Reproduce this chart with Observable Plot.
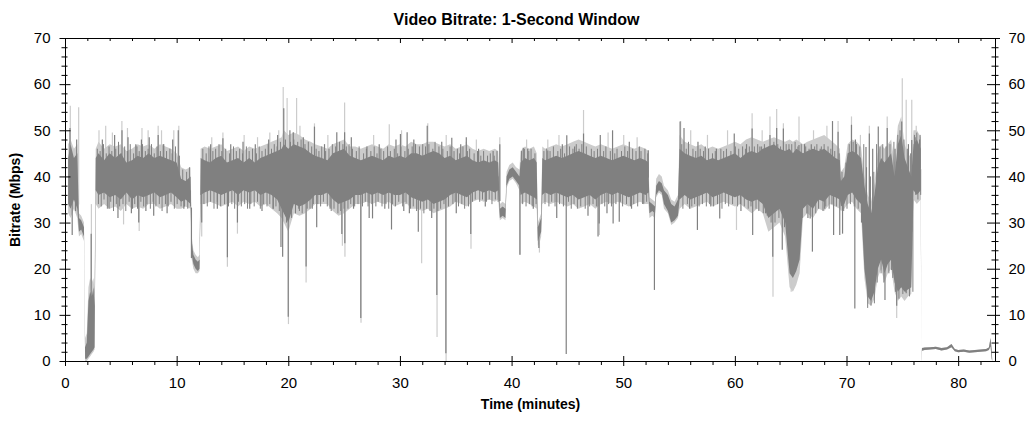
<!DOCTYPE html>
<html><head><meta charset="utf-8">
<script src="https://cdn.jsdelivr.net/npm/d3@7"></script>
<script src="https://cdn.jsdelivr.net/npm/@observablehq/plot@0.6"></script>
<style>html,body{margin:0;padding:0;background:#fff;}</style>
</head><body><div id="chart"></div>
<script>
// ---- Data (minutes, Mbps) ----
const bandTime = [
  0.28, 0.5, 0.8, 1.1, 1.25, 1.45, 1.7,
  1.8, 1.95, 2.1, 2.25, 2.4, 2.55, 2.65,
  2.75, 3.0, 3.5, 4.0, 4.5, 5.0, 5.5, 6.0, 6.5, 7.0, 7.5, 8.0, 8.5, 9.0, 9.5, 10.0, 10.4, 10.8, 11.25,
  11.35, 11.5, 11.7, 11.9, 12.05,
  12.15, 12.5, 13, 13.5, 14, 14.5, 15, 15.5, 16, 16.5, 17, 17.5, 18, 18.5, 19, 19.4,
  19.6, 20.0, 20.5, 21.0, 21.5, 22.0, 22.4,
  23, 23.5, 24, 24.5, 25, 25.5, 26, 26.5, 27, 27.5, 28, 28.5, 29, 29.5, 30, 30.5, 31, 31.5, 32, 32.5, 33, 33.5, 34, 34.5, 35, 35.5, 36, 36.5, 37, 37.5, 38, 38.5, 38.8,
  38.95, 39.2, 39.45,
  39.55, 39.8, 40.1, 40.4, 40.7,
  40.8, 41.2, 41.6, 42.0, 42.25,
  42.35, 42.5, 42.65,
  42.75, 43.0, 43.5, 44, 44.5, 45, 45.5, 46, 46.5, 47, 47.5, 48, 48.5, 49, 49.5, 50, 50.5, 51, 51.5, 52, 52.25,
  52.35, 52.6, 52.85,
  52.95, 53.2, 53.45, 53.65, 54.0, 54.3, 54.6, 54.9,
  55.05, 55.5, 56, 56.5, 57, 57.5, 58, 58.5, 59, 59.5, 60, 60.5, 61, 61.5, 62, 62.5, 63, 63.5, 64, 64.5, 64.9, 65.2, 65.5, 65.8, 66.1, 66.5, 67, 67.5, 68, 68.5, 69, 69.4,
  69.5, 69.8, 70.1, 70.5, 70.9, 71.3, 71.6, 71.9, 72.2, 72.5, 72.8, 73.1, 73.4, 73.7, 74.0, 74.3, 74.6, 74.9, 75.2, 75.5, 75.8, 76.0, 76.3, 76.65,
  76.7, 76.76, 77.0, 77.5, 78.0, 78.5, 79.0, 79.4, 79.7, 80.0, 80.5, 81.0, 81.5, 82.0, 82.5, 82.75, 82.9, 83.0, 83.05
];
const darkLow = [
  34, 33, 35, 33, 28, 28.5, 27,
  0.5, 0.5, 1, 1.5, 2, 2.5, 3,
  37, 36, 36.5, 35.5, 36, 35, 36.5, 35, 36, 35.5, 36, 36.5, 35.5, 36, 36.5, 35.5, 34.5, 35, 34,
  23, 21, 20, 19.5, 20,
  36, 36.5, 37, 36.5, 36, 36.5, 37, 36, 37, 36.5, 37, 36, 36.5, 36, 35, 33,
  32, 30, 34, 33.5, 34, 35, 36,
  36, 36.5, 35, 34, 34.5, 35, 36, 36, 36.5, 36, 36.5, 36, 36.5, 36, 36, 36.5, 35.5, 35, 34.5, 35, 34, 34.5, 35, 36, 36.5, 36, 35.5, 36.5, 37, 36.5, 37, 36.5, 37,
  31, 31.5, 31,
  38, 39.5, 40, 39, 38,
  36, 36.5, 36, 35.5, 35,
  26, 27, 28,
  36, 36.5, 36, 36.5, 36, 35.5, 36, 35, 35.5, 36, 35, 36, 36.5, 36, 36.5, 36, 35.5, 36, 36.5, 36, 36.5,
  32, 32.5, 32,
  36, 37, 36.5, 34, 32.5, 30, 30.5, 31.5,
  35, 36, 35, 35.5, 36, 36.5, 35.5, 36, 36.5, 36, 35.5, 36, 35, 34.5, 35, 34, 31, 32, 33, 30, 19, 18, 19.5, 22, 33, 34, 33, 35, 34.5, 36, 35.5, 35,
  33.5, 34, 36, 36.5, 35, 34, 20, 14, 13, 15, 20, 22, 19, 21, 22, 17, 15, 16, 15, 15.5, 16, 37, 36, 37,
  0, 2.2, 2.4, 2.5, 2.6, 2.3, 2.5, 3.0, 2.1, 1.9, 2.0, 1.8, 1.9, 2.0, 2.1, 2.4, 3.2, 0.5, 0
];
const darkHigh = [
  44, 47, 44, 45, 31, 30.5, 29,
  3, 4, 13, 15, 14, 16, 12,
  44, 45, 43.5, 45, 44, 45, 43, 43.5, 44.5, 44, 45, 44, 44.5, 44, 43.5, 43, 39.5, 39, 40,
  26, 23, 22, 21.5, 22,
  44, 43.5, 43, 44, 44.5, 43, 43.5, 44, 43, 44, 43, 44, 44.5, 45, 45.5, 46,
  47, 46, 47, 46.5, 46, 45, 44.5,
  44, 43.5, 45, 45.5, 46, 44.5, 44, 43.5, 44, 44.5, 44, 43.5, 44.5, 44, 44.5, 44, 45, 45, 44.5, 45, 45.5, 45, 44, 44.5, 43.5, 44, 44.5, 43.5, 43, 43.5, 43, 43.5, 43,
  33, 33.5, 33,
  40, 41.5, 42, 41, 40,
  43, 44, 43.5, 44, 43,
  29, 30, 31,
  44, 43.5, 44, 44.5, 44, 44.5, 45, 45.5, 45, 44.5, 44, 44.5, 44, 43.5, 44, 44.5, 44, 43.5, 44, 43.5, 43,
  34.5, 34, 33.5,
  38, 39, 38.5, 37, 36, 34, 33.5, 35,
  46, 45, 44.5, 44, 44.5, 43.5, 44, 43.5, 44, 44.5, 45, 44, 45, 45.5, 45, 46, 46.5, 47, 46, 45.5, 46, 45, 46, 45.5, 45, 45.5, 46, 45.5, 46, 45, 44, 43.5,
  39, 40, 45, 45.5, 45, 44, 38, 34, 32, 36, 42, 44, 43, 44, 45, 40, 47, 49, 44, 42, 40, 47, 48, 46,
  0.4, 2.8, 2.9, 3.0, 3.1, 2.8, 3.0, 3.7, 2.6, 2.4, 2.5, 2.3, 2.4, 2.5, 2.6, 2.9, 5.0, 2.5, 0.4
];
const lightLow = [
  32, 31, 33, 31, 27, 27.5, 26,
  0, 0, 0.5, 1, 1.5, 2, 2.5,
  34, 33, 34, 33, 33.5, 32.5, 34, 33, 33.5, 33, 34, 34, 33, 33.5, 34, 33, 33, 33.5, 33,
  22, 20, 19, 19, 19.5,
  34, 34, 34.5, 34, 33.5, 34, 34.5, 33.5, 34.5, 34, 34.5, 33.5, 34, 33, 32, 31,
  30, 28, 32, 31.5, 32, 33, 34,
  34, 34, 32.5, 31.5, 32, 33, 34, 34, 34.5, 34, 34.5, 34, 34.5, 33.5, 34, 34.5, 33, 33, 32.5, 33, 32, 32.5, 33, 33.5, 34.5, 34, 33.5, 34.5, 35, 34.5, 35, 34.5, 35,
  30.5, 31, 30.5,
  37.5, 39, 39.5, 38.5, 37,
  34, 34.5, 34, 33.5, 33,
  25, 25.5, 27,
  34, 34.5, 34, 34.5, 34, 33.5, 34, 33, 33.5, 34, 33, 34, 34.5, 34, 34.5, 34, 33.5, 34, 34.5, 34, 34,
  31, 31.5, 31,
  35.5, 36.5, 36, 33, 32, 29.5, 30, 31,
  33, 34, 33, 33.5, 34, 34.5, 33.5, 34, 34.5, 34, 33.5, 34, 33, 32, 33, 32, 28, 29, 30, 27, 16, 15, 16.5, 19, 31, 32, 31, 33, 32.5, 34, 33.5, 33,
  32.5, 33, 34, 34.5, 33, 32, 18, 12.5, 12, 13.5, 18, 20, 17, 19, 20, 15, 13, 14, 13, 14, 14.5, 35, 34, 35,
  0, 2.2, 2.4, 2.5, 2.6, 2.3, 2.5, 3.0, 2.1, 1.9, 2.0, 1.8, 1.9, 2.0, 2.1, 2.4, 3.2, 0.5, 0
];
const lightHigh = [
  47, 48, 46, 47, 32, 31.5, 30,
  5, 6, 16, 18, 17, 18, 15,
  46, 47.5, 46, 47, 46.5, 47, 45.5, 46, 47, 46.5, 47, 46, 47, 46.5, 46, 45, 42, 41.5, 42,
  27, 24, 23, 22.5, 23,
  46, 46.5, 46, 46.5, 47, 45.5, 46, 46.5, 45.5, 46.5, 46, 46.5, 47, 47.5, 48, 48.5,
  50, 49, 49.5, 49, 48, 47.5, 47,
  46.5, 46, 47, 47.5, 48, 46.5, 46.5, 46, 46.5, 47, 46.5, 46, 47, 46.5, 47, 46.5, 47.5, 47, 47, 47.5, 47.5, 47, 46.5, 47, 46, 46.5, 47, 46, 45.5, 46, 45.5, 46, 45.5,
  34, 34.5, 34,
  41, 42.5, 43, 42, 41.5,
  45.5, 46.5, 46, 46.5, 45,
  30, 31, 32,
  46.5, 46, 46.5, 47, 46.5, 47, 47.5, 48, 47.5, 47, 46.5, 47, 46.5, 46, 46.5, 47, 46.5, 46, 46.5, 46, 45.5,
  35.5, 35, 34.5,
  39.5, 40.5, 40, 38, 37, 35, 34.5, 36,
  49, 47.5, 47, 46.5, 47, 46, 46.5, 46, 46.5, 47, 47.5, 47, 48, 48.5, 48, 47.5, 48, 48.5, 48, 47.5, 48, 47.5, 48, 47.5, 47, 47.5, 48, 48.5, 49, 48, 47, 46,
  41, 42, 47, 48, 47.5, 46.5, 40, 36, 34.5, 38.5, 45, 47, 46, 47, 48, 43, 51, 53, 47, 45, 44, 50, 50, 48.5,
  0.4, 2.8, 2.9, 3.0, 3.1, 2.8, 3.0, 3.7, 2.6, 2.4, 2.5, 2.3, 2.4, 2.5, 2.6, 2.9, 5.0, 2.5, 0.4
];
// single-second peaks/dips beyond the band: [minute, Mbps]
const darkSpikes = [
  [0.4,50.5],[0.6,27.3],[0.9,32.5],[1.0,48],[2.3,27.6],
  [3.3,48],[3.9,33],[4.4,49],[4.7,31],[5.06,50],[5.6,48.5],[5.9,32],[6.3,47],[6.56,30],[6.8,48],[7.2,32.5],[7.5,48.5],[7.9,31.5],[8.3,49],[8.8,47],[9.1,32],[9.6,48],[10.1,50],[10.6,33],[11.28,22.3],
  [12.2,30],[13.0,47],[13.6,33],[14.1,48.3],[14.5,22.5],[14.8,47],[15.4,30],[15.9,47.5],[16.5,33],[17.0,47],[17.6,32.5],[18.2,48],[18.6,33],[19.0,49],[19.3,24.7],[19.45,22.6],[19.55,54.8],[19.95,9.6],[20.1,50],
  [20.4,49.6],[20.9,33],[21.3,48.5],[21.55,20.5],[22.1,33],[22.3,50.8],
  [22.5,29],[23.2,47],[23.7,33],[24.3,49.6],[24.75,27.5],[25.0,49.6],[25.02,25.5],[25.6,48.5],[25.8,33],[26.45,9.3],[27.0,46.5],[27.2,31],[27.5,30.9],[28.1,47],[28.6,33],[29.2,28.5],[29.6,48],[30.0,49.2],[30.3,32.5],[30.6,49.6],[30.8,32],[31.2,48],[31.6,28],[32.4,51],[32.8,31],[33.26,14.3],[33.7,47.5],[34.07,1.7],[34.6,48.4],[35.0,32],[35.4,47],[35.9,48.5],[36.3,27.5],[37.0,46],[37.6,33.5],[38.3,45.5],[38.9,47],
  [40.7,23],[41.0,46.2],[41.4,46],[41.9,33],[42.4,24.5],
  [43.2,45.6],[44.0,31],[44.5,47],[44.85,1.5],[44.9,48.9],[45.6,46.5],[46.4,49.3],[46.8,31.5],[47.7,27],[47.8,29.8],[47.9,49],[48.5,32],[49.0,50],[49.05,29.8],[49.6,30.2],[50.5,47.5],[50.7,33],[51.4,46.5],[51.7,34],[52.2,45.7],
  [52.75,15.4],
  [55.05,51.9],[55.4,50.5],[55.9,33],[56.6,28.4],[56.65,47.5],[57.3,46.5],[57.8,33.5],[58.3,46],[58.6,30.9],[59.9,49.3],[60.5,32.5],[61.0,47],[61.5,50.4],[61.55,27.3],[62.2,46.5],[62.7,32],[63.1,49],[63.35,22.6],[63.7,50.5],[64.2,24.1],[64.3,50.4],[65.7,46.8],[66.2,47],[66.5,31],[66.7,30.9],[66.8,47],[66.9,23.7],[67.6,46],[68.0,33],[68.7,52],[68.8,27.3],
  [69.2,49.7],[69.35,27.3],[69.6,27.6],[70.4,51.2],[70.7,11.4],[70.75,48],[71.3,30],[71.7,46.4],[72.0,49.3],[72.3,46],[72.8,50.8],[73.0,24],[73.4,13.2],[73.6,50.5],[74.0,19.7],[74.3,46],[74.45,12],[74.9,51.9],[75.3,14.7],[75.5,47],[75.8,47.9],[76.1,48.5],[76.4,39],[76.5,48]
];
const lightSpikes = [
  [0.43,55.3],[1.18,55],[2.32,34],[3.0,50],[3.6,51],[4.2,49.5],[5.05,52],[5.2,29.6],[5.55,50.5],[6.6,28.2],[6.85,50.5],[7.4,50],[8.3,51],[8.6,50],[9.7,50],[10.15,51],
  [12.2,27],[13.1,48.5],[14.1,49.5],[14.5,20.4],[15.4,27.6],[16.0,49],[17.2,48.5],[18.3,49.5],[19.1,50],[19.5,59.4],[19.85,57],[19.97,8],[20.7,57],[21.0,51],[21.55,17],[22.3,51.5],
  [23.5,49],[24.8,25],[25.0,56],[25.03,22.6],[26.47,8.3],[27.6,49],[29.0,51.3],[30.1,50],[31.9,21.2],[32.45,51.5],[33.28,5.2],[34.09,0],[34.1,49],[35.9,47.5],[36.32,24.3],[36.8,48],[38.9,48.5],
  [40.72,23],[41.3,48],[42.45,23.5],[43.2,48],[44.2,49],[46.4,54.4],[47.82,27.3],[48.6,49.5],[50.0,49],[51.2,48.5],
  [55.1,52],[56.0,50],[57.5,49],[59.3,50],[60.1,28.4],[61.5,53.7],[62.4,50],[63.1,53],[63.37,13.9],[63.7,54.6],[64.3,51.5],[65.0,15],[65.7,53],[67.0,50],[68.2,51],
  [69.2,52],[70.4,53],[71.2,49],[72.0,51],[73.6,53],[74.45,9.3],[74.95,61.3],[75.3,56.6],[75.8,56.6],[76.2,51]
];
// short second-to-second swings at the band edges: [minute, Mbps]
const hairs = [
  [2.85,46],[2.95,34],[3.1,45.5],[3.2,33.5],[3.4,47],[3.45,35],[3.65,45],[3.75,33],[3.9,46.5],[4.05,34.5],[4.15,45.5],[4.3,32.5],[4.5,46],[4.55,34],[4.75,47.5],[4.85,33.5],[5.0,45],[5.15,34],[5.3,46.5],[5.4,32.5],[5.55,45.5],[5.7,34.5],[5.8,47],[6.0,33],[6.1,45],[6.2,34],[6.4,46.5],[6.45,33],[6.6,45.5],[6.75,34.5],[6.9,47],[7.0,33.5],[7.15,45.5],[7.3,34],[7.4,46],[7.6,33],[7.7,47],[7.85,34.5],[7.95,45],[8.1,33.5],[8.2,46.5],[8.4,34],[8.5,45.5],[8.65,32.5],[8.75,47],[8.95,34],[9.05,45.5],[9.2,33.5],[9.35,46],[9.45,34.5],[9.55,45],[9.75,33],[9.85,46.5],[10.0,34],[10.2,44.5],[10.35,33.5],[10.5,41.5],[10.65,33.5],[10.85,41],[10.95,33],[11.1,42],[11.2,33.5],
  [12.3,46],[12.4,34],[12.6,45],[12.7,33.5],[12.85,46.5],[13.0,34.5],[13.2,45.5],[13.3,33],[13.45,46],[13.6,34.5],[13.75,47],[13.9,33.5],[14.0,45.5],[14.25,34],[14.35,46],[14.6,33.5],[14.7,45],[14.9,34],[15.05,46.5],[15.15,33],[15.3,45.5],[15.5,34.5],[15.6,46],[15.75,33.5],[15.85,45],[16.05,34],[16.2,46.5],[16.3,33],[16.45,45.5],[16.6,34],[16.75,46],[16.9,33.5],[17.1,45],[17.2,34.5],[17.35,46.5],[17.45,33],[17.6,45.5],[17.75,34],[17.9,46],[18.05,33.5],[18.15,47],[18.3,34],[18.45,46],[18.6,33],[18.7,47],[18.85,33.5],[18.95,46.5],[19.15,32.5],[19.25,47.5],
  [19.7,48],[19.8,30],[20.15,47.5],[20.25,31],[20.45,48],[20.6,32],[20.8,47.5],[20.95,32.5],[21.1,48],[21.2,32],[21.45,47],[21.65,33],[21.75,47.5],[21.9,33],[22.05,46.5],[22.2,34],[22.45,46],[22.6,34],[22.7,45.5],[22.85,33.5],[22.95,46.5],[23.1,34.5],[23.3,45.5],[23.45,33.5],[23.6,46],[23.8,32.5],[23.9,47],[24.05,33],[24.2,46.5],[24.4,32],[24.55,47.5],[24.65,32.5],[24.85,47],[24.95,33],[25.15,46.5],[25.3,33],[25.4,47],[25.55,34],[25.7,46],[25.9,33.5],[26.05,45.5],[26.2,34],[26.3,46.5],[26.6,33.5],[26.7,45],[26.85,34.5],[26.95,46],[27.1,33.5],[27.35,45.5],[27.45,34],[27.65,46.5],[27.8,33.5],[27.9,45],[28.0,34.5],[28.25,46],[28.35,33.5],[28.5,45.5],[28.7,34],[28.85,46.5],[28.95,33],[29.1,45.5],[29.3,34],[29.45,46],[29.55,33.5],[29.75,45],[29.85,34.5],[30.05,46.5],[30.2,33.5],[30.4,45.5],[30.5,34],[30.7,46],[30.9,33],[31.05,46.5],[31.15,33.5],[31.35,47],[31.45,32.5],[31.7,46.5],[31.8,33],[32.0,47],[32.1,32],[32.25,46.5],[32.35,33],[32.55,47],[32.65,32.5],[32.9,46],[33.0,33],[33.1,47.5],[33.35,32.5],[33.45,46.5],[33.6,33],[33.8,46],[33.9,34],[34.2,45.5],[34.3,33.5],[34.45,46.5],[34.7,34],[34.8,45.5],[34.9,34.5],[35.1,46],[35.2,33.5],[35.3,45],[35.5,34],[35.6,46.5],[35.75,33],[36.0,45.5],[36.1,33.5],[36.2,46],[36.45,34.5],[36.6,45],[36.7,35],[36.9,45.5],[37.1,34.5],[37.2,44.5],[37.35,35],[37.45,45.5],[37.7,34.5],[37.8,44.5],[37.95,35],[38.05,45],[38.2,34],[38.4,44.5],[38.5,35],[38.65,45.5],[38.75,34.5],
  [40.85,45.5],[40.95,34],[41.1,46],[41.25,33.5],[41.5,45.5],[41.55,34],[41.7,46],[41.8,33.5],[42.05,45],[42.15,34],
  [42.85,45.5],[42.95,34],[43.1,46],[43.3,33.5],[43.4,45.5],[43.55,34.5],[43.7,46.5],[43.85,33.5],[44.1,45.5],[44.25,34],[44.35,46],[44.6,33.5],[44.7,45],[45.05,34.5],[45.15,46.5],[45.3,33],[45.45,46],[45.55,34],[45.75,47],[45.85,33],[46.0,46],[46.15,33.5],[46.25,47],[46.55,33],[46.65,46.5],[46.95,33.5],[47.1,46],[47.25,34],[47.35,45.5],[47.55,33.5],[47.65,46],[48.05,34],[48.2,45.5],[48.3,33.5],[48.4,46.5],[48.65,34],[48.8,45.5],[48.9,33.5],[49.2,45],[49.3,34],[49.4,46],[49.7,34.5],[49.8,45.5],[49.9,33.5],[50.1,46.5],[50.25,34],[50.35,45.5],[50.6,33.5],[50.8,46],[50.9,34],[51.1,45.5],[51.25,33.5],[51.55,45.5],[51.8,34],[51.9,46],[52.05,34.5],[52.15,45],
  [55.2,47],[55.3,33],[55.6,46],[55.7,34],[55.8,47.5],[56.1,33.5],[56.2,46],[56.35,34],[56.45,45.5],[56.75,33.5],[56.85,46],[57.05,34],[57.15,45.5],[57.4,33.5],[57.6,46],[57.7,34],[57.95,45],[58.05,33.5],[58.2,45.5],[58.4,34],[58.7,46],[58.8,33],[58.95,45.5],[59.1,34],[59.2,46],[59.4,33.5],[59.6,45.5],[59.75,34],[60.0,46.5],[60.2,33.5],[60.3,46],[60.45,34],[60.65,46.5],[60.8,33.5],[60.9,46],[61.15,33],[61.25,46.5],[61.4,33.5],[61.7,46.5],[61.85,33],[62.0,47],[62.1,32.5],[62.35,46.5],[62.5,32],[62.6,47],[62.85,31.5],[62.95,46.5],[63.2,30],[63.45,47.5],[63.55,30],[63.8,47],[63.9,31],[64.05,46.5],[64.4,29],[64.55,47],[64.7,26],[64.8,47],[65.05,47],[65.35,47.5],[65.6,46.5],[65.9,47],[66.0,31],[66.3,46.5],[66.4,32],[66.6,46],[67.1,46.5],[67.2,32],[67.3,47],[67.45,33],[67.7,46.5],[67.85,32.5],[67.95,47],[68.1,33.5],[68.3,46.5],[68.4,33],[68.55,46],[68.65,34],[68.9,45.5],[69.05,33.5],[69.3,45],
  [69.55,41],[69.7,32.5],[69.9,43],[70.0,33],[70.2,47],[70.3,34],[70.55,47.5],[70.65,33.5],[70.85,47],[71.0,33],[71.15,46.5],[71.4,31],[71.5,47],[71.75,42],[71.85,11.5],[72.1,40],[72.15,12],[72.4,41],[72.45,12.5],[72.65,47],[72.7,17],[72.95,46.5],[73.05,19],[73.2,47],[73.3,17],[73.5,46.5],[73.75,19],[73.85,47],[74.1,18],[74.2,47.5],[74.35,15],[74.55,49],[74.65,13.5],[74.75,50],[75.0,14.5],[75.1,48],[75.25,15],[75.4,46],[75.6,14],[75.7,45],[75.9,15],[76.05,49],[76.15,36],[76.25,49.5],[76.35,35],[76.55,49],[76.6,36]
];
const xMajor = [0, 10, 20, 30, 40, 50, 60, 70, 80];
const xMinor = [2,4,6,8,12,14,16,18,22,24,26,28,32,34,36,38,42,44,46,48,52,54,56,58,62,64,66,68,72,74,76,78,82];
const yMajor = [0, 10, 20, 30, 40, 50, 60, 70];
const yMinor = [2,4,6,8,12,14,16,18,22,24,26,28,32,34,36,38,42,44,46,48,52,54,56,58,62,64,66,68];
const titleText = "Video Bitrate: 1-Second Window";
const xLabel = "Time (minutes)";
const yLabel = "Bitrate (Mbps)";

// ---- Build tables ----
const band = bandTime.map((t, i) => ({t, dLo: darkLow[i], dHi: darkHigh[i], lLo: lightLow[i], lHi: lightHigh[i]}));
const mid = bandTime.map((t, i) => (darkLow[i] + darkHigh[i]) / 2);
const bis = d3.bisector(d => d).left;
function baseAt(t) {
  const i = bis(bandTime, t);
  if (i <= 0) return mid[0];
  if (i >= bandTime.length) return mid[mid.length - 1];
  const t0 = bandTime[i - 1], t1 = bandTime[i];
  const u = (t - t0) / (t1 - t0);
  return mid[i - 1] + u * (mid[i] - mid[i - 1]);
}
const toRule = ([t, v]) => ({t, v, b: baseAt(t)});
const dS = darkSpikes.map(toRule);
const lS = lightSpikes.map(toRule);
const hS = hairs.map(toRule);

const W = 1032, H = 421, mL = 65, mR = 37, mT = 38, mB = 60;
const iW = W - mL - mR, iH = H - mT - mB;
const DARK = "#808080", LIGHT = "#cccccc";

const chart = Plot.plot({
  width: W, height: H,
  marginLeft: mL, marginRight: mR, marginTop: mT, marginBottom: mB,
  x: {domain: [0, 83.3], axis: null},
  y: {domain: [0, 70], axis: null},
  style: {fontFamily: "'Liberation Sans', Arial, sans-serif", fontSize: "15px", background: "#fff", overflow: "visible"},
  marks: [
    Plot.areaY(band, {x: "t", y1: "lLo", y2: "lHi", fill: LIGHT}),
    Plot.ruleX(lS, {x: "t", y1: "b", y2: "v", stroke: LIGHT, strokeWidth: 1.2}),
    Plot.areaY(band, {x: "t", y1: "dLo", y2: "dHi", fill: DARK}),
    Plot.ruleX(hS, {x: "t", y1: "b", y2: "v", stroke: DARK, strokeWidth: 1}),
    Plot.ruleX(dS, {x: "t", y1: "b", y2: "v", stroke: DARK, strokeWidth: 1.2}),
    Plot.frame({stroke: "#000", strokeWidth: 1}),
    // bottom ticks
    Plot.tickX(xMajor, {x: d => d, insetTop: iH - 5, insetBottom: -5, stroke: "#000"}),
    Plot.tickX(xMinor, {x: d => d, insetTop: iH, insetBottom: -4, stroke: "#000"}),
    // top ticks
    Plot.tickX(xMajor, {x: d => d, insetTop: 0, insetBottom: iH - 5, stroke: "#000"}),
    Plot.tickX(xMinor, {x: d => d, insetTop: 0, insetBottom: iH - 3, stroke: "#000"}),
    // left ticks
    Plot.tickY(yMajor, {y: d => d, insetLeft: -5.5, insetRight: iW - 5.5, stroke: "#000"}),
    Plot.tickY(yMinor, {y: d => d, insetLeft: -3.5, insetRight: iW - 2.5, stroke: "#000"}),
    // right ticks
    Plot.tickY(yMajor, {y: d => d, insetLeft: iW - 8, insetRight: -5, stroke: "#000"}),
    Plot.tickY(yMinor, {y: d => d, insetLeft: iW - 3.5, insetRight: -3.5, stroke: "#000"}),
    // tick labels
    Plot.text(xMajor, {x: d => d, frameAnchor: "bottom", dy: 16, lineAnchor: "top", textAnchor: "middle", text: d => String(d), fill: "#000"}),
    Plot.text(yMajor, {y: d => d, frameAnchor: "left", dx: -15, textAnchor: "end", text: d => String(d), fill: "#000"}),
    Plot.text(yMajor, {y: d => d, frameAnchor: "right", dx: 13, textAnchor: "start", text: d => String(d), fill: "#000"}),
    // titles
    Plot.text([titleText], {frameAnchor: "top", dx: -14, dy: -24.5, textAnchor: "middle", text: d => d, fontWeight: "bold", fontSize: 16, fill: "#000"}),
    Plot.text([xLabel], {frameAnchor: "bottom", dy: 47.5, textAnchor: "middle", text: d => d, fontWeight: "bold", fontSize: 14, fill: "#000"}),
    Plot.text([yLabel], {frameAnchor: "left", dx: -50, rotate: -90, textAnchor: "middle", text: d => d, fontWeight: "bold", fontSize: 14, fill: "#000"})
  ]
});
document.getElementById("chart").appendChild(chart);
</script>
</body></html>
